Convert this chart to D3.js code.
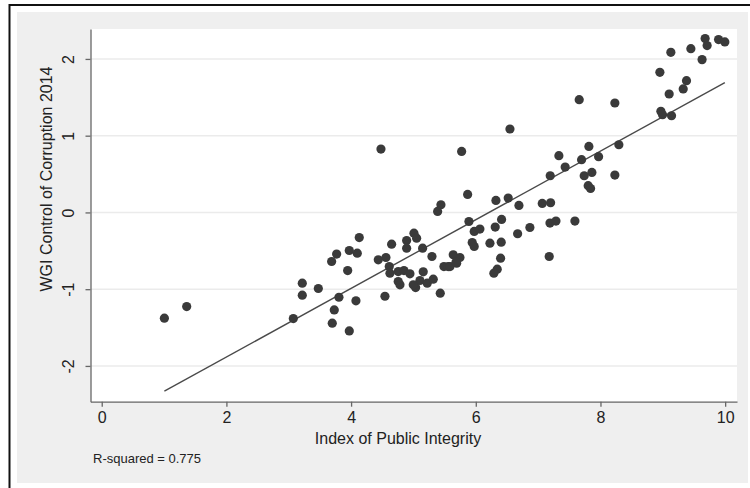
<!DOCTYPE html>
<html>
<head>
<meta charset="utf-8">
<script src="https://cdn.jsdelivr.net/npm/d3@7"></script>
<style>
  html, body { margin: 0; padding: 0; background: #ffffff; }
  svg { display: block; }
  text { font-family: "Liberation Sans", Arial, sans-serif; fill: #222; }
</style>
</head>
<body>
<svg id="chart" width="750" height="488"></svg>
<script>
// Index of Public Integrity (x) vs WGI Control of Corruption 2014 (y)
const integrity = [
  1.005, 1.363, 3.217, 3.217, 3.073, 4.479, 5.773, 5.869, 5.441, 5.388,
  5.890, 5.975, 6.066, 5.943, 5.975, 4.131, 3.971, 4.099, 3.768, 3.688,
  3.945, 3.474, 3.805, 4.078, 4.543, 3.730, 3.698, 3.971, 4.650, 4.891,
  4.891, 5.008, 5.051, 5.147, 5.297, 4.436, 4.559, 4.612, 4.623, 4.756,
  4.848, 4.944, 4.756, 4.784, 5.035, 5.157, 5.104, 5.221, 5.318, 5.430,
  5.489, 5.558, 5.638, 5.693, 5.746, 4.997, 9.630, 8.953, 9.380, 9.327,
  9.102, 7.659, 8.231, 8.969, 8.996, 9.140, 6.548, 7.814, 8.295, 7.333,
  7.697, 7.970, 7.434, 7.194, 7.739, 7.862, 8.231, 7.803, 7.841, 6.323,
  6.520, 6.692, 7.066, 7.200, 6.312, 6.414, 6.868, 6.671, 7.190, 7.286,
  7.590, 6.227, 6.408, 6.398, 7.178, 6.344, 6.290, 9.129, 9.450, 9.679,
  9.711, 9.894, 9.995, 5.586, 5.682
];
const corruption = [
  -1.378, -1.227, -0.922, -1.078, -1.383, 0.826, 0.795, 0.234, 0.100, 0.013,
  -0.118, -0.248, -0.217, -0.392, -0.444, -0.327, -0.496, -0.531, -0.543, -0.639,
  -0.757, -0.991, -1.105, -1.152, -1.092, -1.270, -1.443, -1.544, -0.413, -0.366,
  -0.466, -0.270, -0.335, -0.466, -0.574, -0.618, -0.587, -0.705, -0.791, -0.770,
  -0.757, -0.800, -0.900, -0.943, -0.979, -0.774, -0.887, -0.922, -0.870, -1.052,
  -0.705, -0.705, -0.552, -0.661, -0.587, -0.943, 1.991, 1.825, 1.717, 1.609,
  1.543, 1.469, 1.426, 1.317, 1.274, 1.260, 1.087, 0.860, 0.882, 0.739,
  0.687, 0.726, 0.591, 0.478, 0.478, 0.521, 0.487, 0.348, 0.312, 0.156,
  0.187, 0.091, 0.117, 0.126, -0.191, -0.091, -0.196, -0.278, -0.139, -0.113,
  -0.113, -0.400, -0.387, -0.596, -0.574, -0.739, -0.791, 2.086, 2.134, 2.265,
  2.174, 2.252, 2.222, -0.705, -0.648
];
const xTicks = [0, 2, 4, 6, 8, 10];
const yTicks = [-2, -1, 0, 1, 2];
const rSquaredLabel = "R-squared = 0.775";
const xTitle = "Index of Public Integrity";
const yTitle = "WGI Control of Corruption 2014";

const svg = d3.select("#chart");
const plot = { left: 90.5, right: 737, top: 29, bottom: 401.7 };
const tickFmt = d => String(d);   // plain hyphen for negatives

// Outer frame and grey graph region
svg.append("rect").attr("x", 9.5).attr("y", 5).attr("width", 760).attr("height", 500)
  .attr("fill", "#ffffff").attr("stroke", "#111").attr("stroke-width", 2);
svg.append("rect").attr("x", 17).attr("y", 12).attr("width", 731).attr("height", 471)
  .attr("fill", "#efefef");
svg.append("rect").attr("x", plot.left).attr("y", plot.top)
  .attr("width", plot.right - plot.left).attr("height", plot.bottom - plot.top)
  .attr("fill", "#ffffff");

const x = d3.scaleLinear().domain([-0.18, 10.19]).range([plot.left, plot.right]);
const y = d3.scaleLinear().domain([-2.466, 2.39]).range([plot.bottom, plot.top]);

// Horizontal grid lines
svg.append("g").selectAll("line").data(yTicks).join("line")
  .attr("x1", plot.left).attr("x2", plot.right)
  .attr("y1", d => y(d)).attr("y2", d => y(d))
  .attr("stroke", "#ebebeb").attr("stroke-width", 1.5);

// Axes
const xAxis = svg.append("g").attr("transform", `translate(0,${plot.bottom})`)
  .call(d3.axisBottom(x).tickValues(xTicks).tickFormat(tickFmt)
    .tickSize(5).tickPadding(5).tickSizeOuter(0));
const yAxis = svg.append("g").attr("transform", `translate(${plot.left},0)`)
  .call(d3.axisLeft(y).tickValues(yTicks).tickFormat(tickFmt)
    .tickSize(5).tickSizeOuter(0));
[xAxis, yAxis].forEach(g => {
  g.select(".domain").attr("stroke", "#666").attr("stroke-width", 1.3);
  g.selectAll(".tick line").attr("stroke", "#666").attr("stroke-width", 1.3);
});
xAxis.selectAll(".tick text").attr("font-size", 16)
  .attr("font-family", "Liberation Sans, Arial, sans-serif").attr("fill", "#222");
yAxis.selectAll(".tick text").attr("font-size", 16)
  .attr("font-family", "Liberation Sans, Arial, sans-serif").attr("fill", "#222")
  .attr("text-anchor", "middle").attr("dy", 0).attr("x", 0).attr("y", 0)
  .attr("transform", "translate(-17,0) rotate(-90)");

// Axis titles
svg.append("text").attr("x", 398).attr("y", 444)
  .attr("text-anchor", "middle").attr("font-size", 16).text(xTitle);
svg.append("text").attr("transform", "translate(52,179) rotate(-90)")
  .attr("text-anchor", "middle").attr("font-size", 16).text(yTitle);

// Least-squares fit of corruption on integrity
const n = integrity.length;
const mx = d3.mean(integrity), my = d3.mean(corruption);
let sxy = 0, sxx = 0;
for (let i = 0; i < n; i++) {
  sxy += (integrity[i] - mx) * (corruption[i] - my);
  sxx += (integrity[i] - mx) ** 2;
}
const slope = sxy / sxx, intercept = my - slope * mx;
const [xmin, xmax] = d3.extent(integrity);
svg.append("line")
  .attr("x1", x(xmin)).attr("y1", y(intercept + slope * xmin))
  .attr("x2", x(xmax)).attr("y2", y(intercept + slope * xmax))
  .attr("stroke", "#4a4a4a").attr("stroke-width", 1.4);

// Country points
svg.append("g").selectAll("circle").data(d3.range(n)).join("circle")
  .attr("cx", i => x(integrity[i])).attr("cy", i => y(corruption[i]))
  .attr("r", 4.6).attr("fill", "#3a3a3a");

// Fit statistic note
svg.append("text").attr("x", 93).attr("y", 462.5).attr("font-size", 13).text(rSquaredLabel);
</script>
</body>
</html>
